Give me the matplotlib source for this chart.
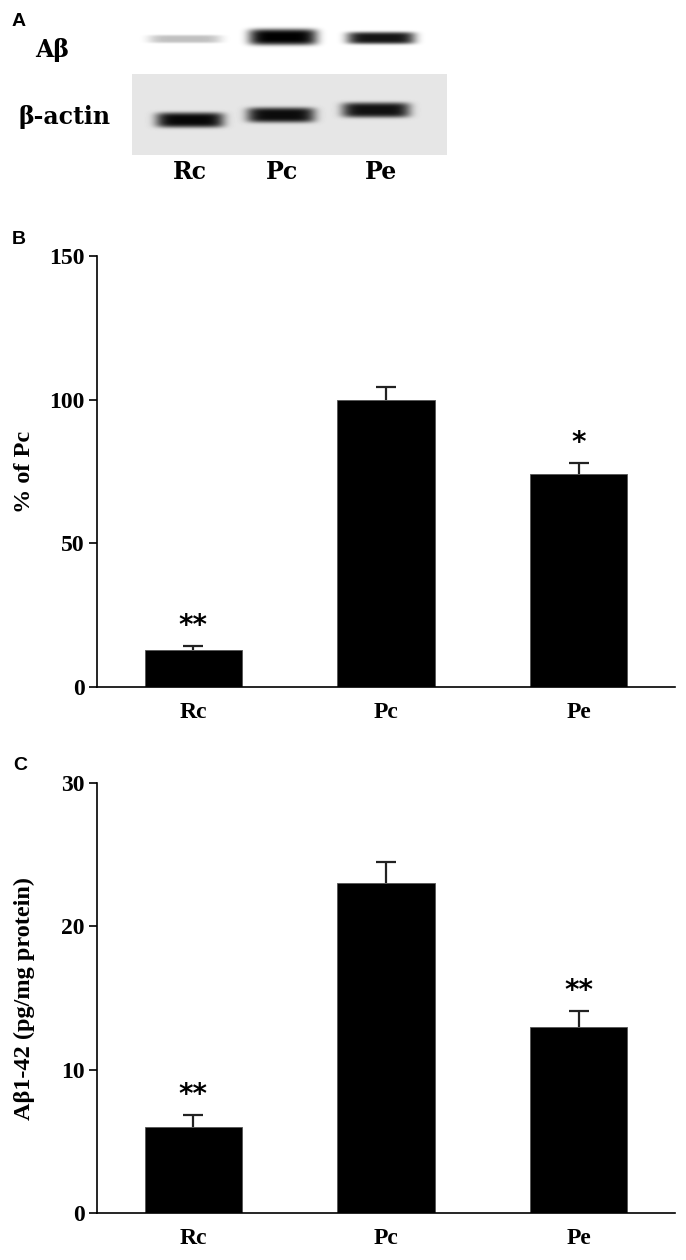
import numpy as np
import matplotlib
matplotlib.use("Agg")
import matplotlib.pyplot as plt

W, H = 686, 1260

groups = ["Rc", "Pc", "Pe"]

# panel B: Abeta western blot, % of Pc
pct_of_pc = [13, 100, 74]
pct_sem = [1.3, 4.5, 4.0]
pct_marks = ["**", "", "*"]

# panel C: Abeta1-42 ELISA
ab42 = [6.0, 23.0, 13.0]
ab42_sem = [0.85, 1.5, 1.1]
ab42_marks = ["**", "", "**"]

# band darkness on the blot (0 = no band, 1 = black)
ab_band = [0.25, 1.0, 0.92]
actin_band = [0.97, 0.95, 0.93]

plt.rcParams["font.family"] = "Liberation Serif"
plt.rcParams["font.weight"] = "bold"


def axes_px(fig, left, top, right, bottom):
	return fig.add_axes([left / W, 1 - bottom / H, (right - left) / W, (bottom - top) / H])


def ftext(fig, x, y, s, **kw):
	fig.text(x / W, 1 - y / H, s, ha="center", va="center", **kw)


fig = plt.figure(figsize=(W / 100, H / 100), dpi=100)

# ---- A: blot ----
ax = axes_px(fig, 120, 15, 460, 165)
xs = np.arange(120, 460) + 0.5
ys = np.arange(15, 165) + 0.5
X, Y = np.meshgrid(xs, ys)
img = np.ones_like(X)
img[(X > 132) & (X < 447) & (Y > 74) & (Y < 155)] = 0.9
dark = np.zeros_like(X)
lanes_ab = [185, 283, 381]
lanes_actin = [190, 281, 376]
for cx, cy, hw, hh, s in zip(lanes_ab, [39, 37, 38], [36, 34, 34], [4, 8, 6], ab_band):
	f = s * np.exp(-(np.abs(X - cx) / hw) ** 6 - (np.abs(Y - cy) / hh) ** 4)
	dark = np.maximum(dark, f)
for cx, cy, s in zip(lanes_actin, [120, 115, 110], actin_band):
	f = s * np.exp(-(np.abs(X - cx) / 34) ** 6 - (np.abs(Y - cy) / 7.5) ** 4)
	dark = np.maximum(dark, f)
img = img * (1 - dark)
ax.imshow(img, cmap="gray", vmin=0, vmax=1, extent=(120, 460, 165, 15),
	interpolation="bilinear", aspect="auto")
ax.set_xlim(120, 460)
ax.set_ylim(165, 15)
ax.axis("off")

blot_font = dict(family="DejaVu Serif", weight="bold", size=17)
ftext(fig, 52, 50, "Aβ", **blot_font)
ftext(fig, 64, 117, "β-actin", **blot_font)
for x, g in zip([190, 282, 381], groups):
	ftext(fig, x, 172, g, **blot_font)

letter = dict(family="Liberation Sans", weight="bold", size=14)
ftext(fig, 19, 22, "A", **letter)
ftext(fig, 19, 240, "B", **letter)
ftext(fig, 20, 765, "C", **letter)


def bar_panel(ax, vals, errs, marks, ymax, step, ylabel, labx):
	x = np.arange(len(vals))
	tops = np.array(vals) + np.array(errs)
	ax.bar(x, vals, width=0.505, color="black", edgecolor="#555555", linewidth=0.6, zorder=2)
	ax.vlines(x, vals, tops, color="#222222", linewidth=1.6, zorder=1)
	ax.plot(x, tops, ls="none", marker="_", markersize=14, markeredgewidth=1.6,
		color="#222222", zorder=1)
	for xi, t, m in zip(x, tops, marks):
		if m:
			ax.annotate(m, (xi, t), xytext=(0, 4), textcoords="offset points",
				ha="center", va="bottom", fontsize=20, fontweight="bold",
				family="DejaVu Sans")
	ax.set_xlim(-0.5, 2.5)
	ax.set_ylim(0, ymax)
	ax.set_yticks(np.arange(0, ymax + 1, step))
	ax.set_xticks(x)
	ax.set_xticklabels(groups)
	for s in ["top", "right"]:
		ax.spines[s].set_visible(False)
	for s in ["left", "bottom"]:
		ax.spines[s].set_linewidth(1.2)
	ax.tick_params(axis="y", length=6, width=1.2, pad=3, labelsize=17)
	ax.tick_params(axis="x", length=0, pad=11, labelsize=17)
	ax.set_ylabel(ylabel, fontsize=17.5, fontweight="bold")
	ax.yaxis.set_label_coords(labx, 0.5)


axb = axes_px(fig, 97, 256, 675, 687)
bar_panel(axb, pct_of_pc, pct_sem, pct_marks, 150, 50, "% of Pc", -0.107)

axc = axes_px(fig, 97, 783, 675, 1213)
bar_panel(axc, ab42, ab42_sem, ab42_marks, 30, 10, "Aβ1-42 (pg/mg protein)", -0.107)

fig.savefig("out.png", dpi=100)
